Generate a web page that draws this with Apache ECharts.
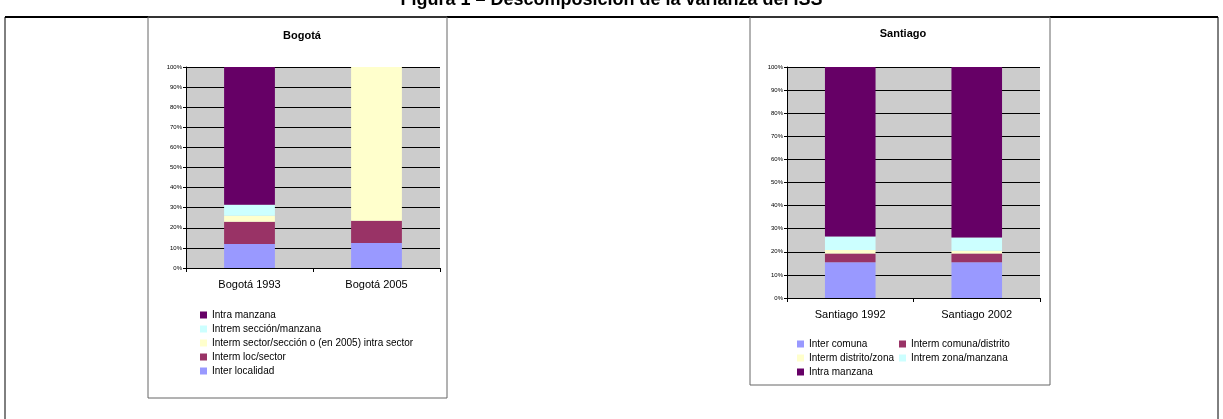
<!DOCTYPE html>
<html><head><meta charset="utf-8">
<script src="https://cdn.jsdelivr.net/npm/echarts@6/dist/echarts.min.js"></script>
<style>html,body{margin:0;padding:0;background:#fff}#c{width:1223px;height:419px}</style>
</head><body><div id="c"></div>
<script>
// Bogotá
const bogCats = ['Bogotá 1993', 'Bogotá 2005'];
const bogInterLocalidad = [12, 12.5];
const bogLocSector = [11, 11];
const bogSectorSeccion = [3, 76.5];
const bogSeccionManzana = [5.5, 0];
const bogIntraManzana = [68.5, 0];
// Santiago
const stgCats = ['Santiago 1992', 'Santiago 2002'];
const stgInterComuna = [15.5, 15.5];
const stgComunaDistrito = [3.8, 3.8];
const stgDistritoZona = [1.5, 1.2];
const stgZonaManzana = [5.8, 5.7];
const stgIntraManzana = [73.4, 73.8];

const C = { p: '#660066', cy: '#CCFFFF', ye: '#FFFFCC', ro: '#993366', bl: '#9999FF' };
const chart = echarts.init(document.getElementById('c'));

function yAxis(gi) {
  return { gridIndex: gi, type: 'value', min: 0, max: 100, interval: 10,
    axisLabel: { formatter: '{value}%', fontSize: 6, color: '#000', margin: 4 },
    axisLine: { show: true, lineStyle: { color: '#000' } },
    axisTick: { show: true, length: 3, lineStyle: { color: '#000' } },
    splitLine: { lineStyle: { color: '#000', width: 1 } } };
}
function xAxis(gi, cats) {
  return { gridIndex: gi, type: 'category', data: cats,
    axisLabel: { fontSize: 11, color: '#000', margin: 11, fontFamily: 'Arial' },
    axisLine: { lineStyle: { color: '#000' } },
    axisTick: { show: true, length: 4, lineStyle: { color: '#000' } } };
}
function bar(name, data, color, gi, stack) {
  return { name, type: 'bar', stack, data, xAxisIndex: gi, yAxisIndex: gi,
    barWidth: '40%', itemStyle: { color }, emphasis: { disabled: true } };
}
const legendText = { fontSize: 10, color: '#000', fontFamily: 'Arial' };
const legendBase = { orient: 'vertical', itemWidth: 7, itemHeight: 7, itemGap: 4,
  icon: 'rect', textStyle: legendText, selectedMode: false, padding: 0 };

chart.setOption({
  animation: false,
  graphic: [
    { type: 'text', left: 'center', top: -9, style: { text: 'Figura 1 – Descomposición de la varianza del ISS', font: 'bold 18px Arial', fill: '#000' } },
    { type: 'line', shape: { x1: 5, y1: 17, x2: 1218, y2: 17 }, style: { stroke: '#000', lineWidth: 2 } },
    { type: 'line', shape: { x1: 5, y1: 17, x2: 5, y2: 419 }, style: { stroke: '#000', lineWidth: 1 } },
    { type: 'line', shape: { x1: 1218, y1: 17, x2: 1218, y2: 419 }, style: { stroke: '#000', lineWidth: 1 } },
    { type: 'rect', shape: { x: 148, y: 17, width: 299, height: 381 }, style: { fill: 'none', stroke: '#666', lineWidth: 1 } },
    { type: 'rect', shape: { x: 750, y: 17, width: 300, height: 368 }, style: { fill: 'none', stroke: '#666', lineWidth: 1 } },
    { type: 'text', x: 302, y: 30, style: { text: 'Bogotá', font: 'bold 11px Arial', fill: '#000', align: 'center' } },
    { type: 'text', x: 903, y: 28, style: { text: 'Santiago', font: 'bold 11px Arial', fill: '#000', align: 'center' } }
  ],
  grid: [
    { left: 186, top: 67, width: 254, height: 201, backgroundColor: '#CCCCCC', show: true, borderWidth: 0 },
    { left: 787, top: 67, width: 253, height: 231, backgroundColor: '#CCCCCC', show: true, borderWidth: 0 }
  ],
  xAxis: [xAxis(0, bogCats), xAxis(1, stgCats)],
  yAxis: [yAxis(0), yAxis(1)],
  legend: [
    Object.assign({}, legendBase, { left: 200, top: 310,
      data: ['Intra manzana', 'Intrem sección/manzana', 'Interm sector/sección o (en 2005) intra sector', 'Interm loc/sector', 'Inter localidad'] }),
    Object.assign({}, legendBase, { left: 797, top: 339, data: ['Inter comuna', 'Interm distrito/zona', 'Intra manzana '] }),
    Object.assign({}, legendBase, { left: 899, top: 339, data: ['Interm comuna/distrito', 'Intrem zona/manzana'] })
  ],
  series: [
    bar('Inter localidad', bogInterLocalidad, C.bl, 0, 'b'),
    bar('Interm loc/sector', bogLocSector, C.ro, 0, 'b'),
    bar('Interm sector/sección o (en 2005) intra sector', bogSectorSeccion, C.ye, 0, 'b'),
    bar('Intrem sección/manzana', bogSeccionManzana, C.cy, 0, 'b'),
    bar('Intra manzana', bogIntraManzana, C.p, 0, 'b'),
    bar('Inter comuna', stgInterComuna, C.bl, 1, 's'),
    bar('Interm comuna/distrito', stgComunaDistrito, C.ro, 1, 's'),
    bar('Interm distrito/zona', stgDistritoZona, C.ye, 1, 's'),
    bar('Intrem zona/manzana', stgZonaManzana, C.cy, 1, 's'),
    bar('Intra manzana ', stgIntraManzana, C.p, 1, 's')
  ]
});
</script></body></html>
